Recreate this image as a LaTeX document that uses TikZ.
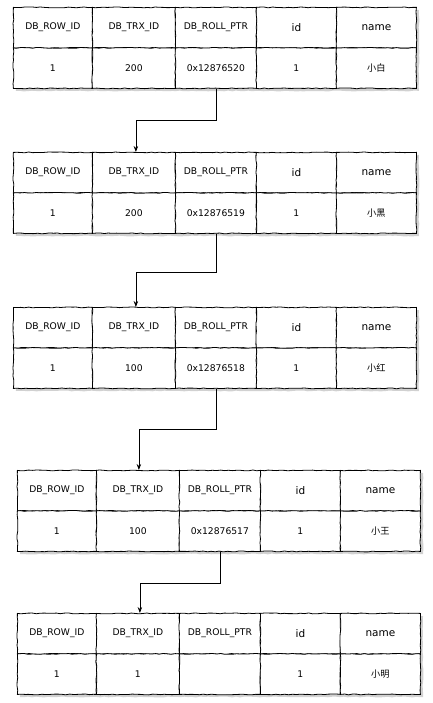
\documentclass[tikz,border=0pt]{standalone}
\usepackage{fontspec}
\setmainfont{DejaVu Sans}
\newfontfamily\cjk{Noto Sans CJK SC}
\usetikzlibrary{arrows.meta,decorations.pathmorphing}

\begin{document}
\begin{tikzpicture}[x=1pt,y=-1pt]
\tikzset{cellule/.style={draw,thick,fill=white,anchor=north west,minimum height=40.5pt,inner sep=1pt,
  font=\fontsize{9.2}{11}\selectfont,
  decorate,decoration={random steps,segment length=4pt,amplitude=0.45pt}},
grand/.style={font=\fontsize{10.5}{12}\selectfont},
ombre/.style={fill=black!18,decorate,decoration={random steps,segment length=4pt,amplitude=0.45pt}},
lien/.style={-{Stealth[length=6pt,width=4.5pt]},thick}}
\useasboundingbox (0,0) rectangle (433,703);

\foreach \t/\x/\y/\trx/\ptr/\nom in {1/13/7/200/0x12876520/小白, 2/13/152/200/0x12876519/小黑,
  3/13/307/100/0x12876518/小红, 4/17/470/100/0x12876517/小王, 5/17/613/1/{}/小明}{
  \fill[ombre] (\x+3,\y+3) rectangle (\x+406,\y+84);
  % en-tetes
  \node[cellule,minimum width=79pt] (h\t1) at (\x,\y) {DB\_ROW\_ID};
  \node[cellule,minimum width=83pt] (h\t2) at (\x+79,\y) {DB\_TRX\_ID};
  \node[cellule,minimum width=81pt] (h\t3) at (\x+162,\y) {DB\_ROLL\_PTR};
  \node[cellule,grand,minimum width=80pt] (h\t4) at (\x+243,\y) {id};
  \node[cellule,grand,minimum width=80pt] (h\t5) at (\x+323,\y) {name};
  % valeurs
  \node[cellule,minimum width=79pt] (v\t1) at (\x,\y+40.5) {1};
  \node[cellule,minimum width=83pt] (v\t2) at (\x+79,\y+40.5) {\trx};
  \node[cellule,minimum width=81pt] (v\t3) at (\x+162,\y+40.5) {\ptr};
  \node[cellule,minimum width=80pt] (v\t4) at (\x+243,\y+40.5) {1};
  \node[cellule,minimum width=80pt] (v\t5) at (\x+323,\y+40.5) {\cjk\nom};
}

\draw[lien] (v13.south) -- ++(0,32) -| ([xshift=2pt]h22.north);
\draw[lien] (v23.south) -- ++(0,39) -| ([xshift=2pt]h32.north);
\draw[lien] (v33.south) -- ++(0,41) -| ([xshift=1pt]h42.north);
\draw[lien] (v43.south) -- ++(0,32) -| ([xshift=2pt]h52.north);
\end{tikzpicture}
\end{document}
